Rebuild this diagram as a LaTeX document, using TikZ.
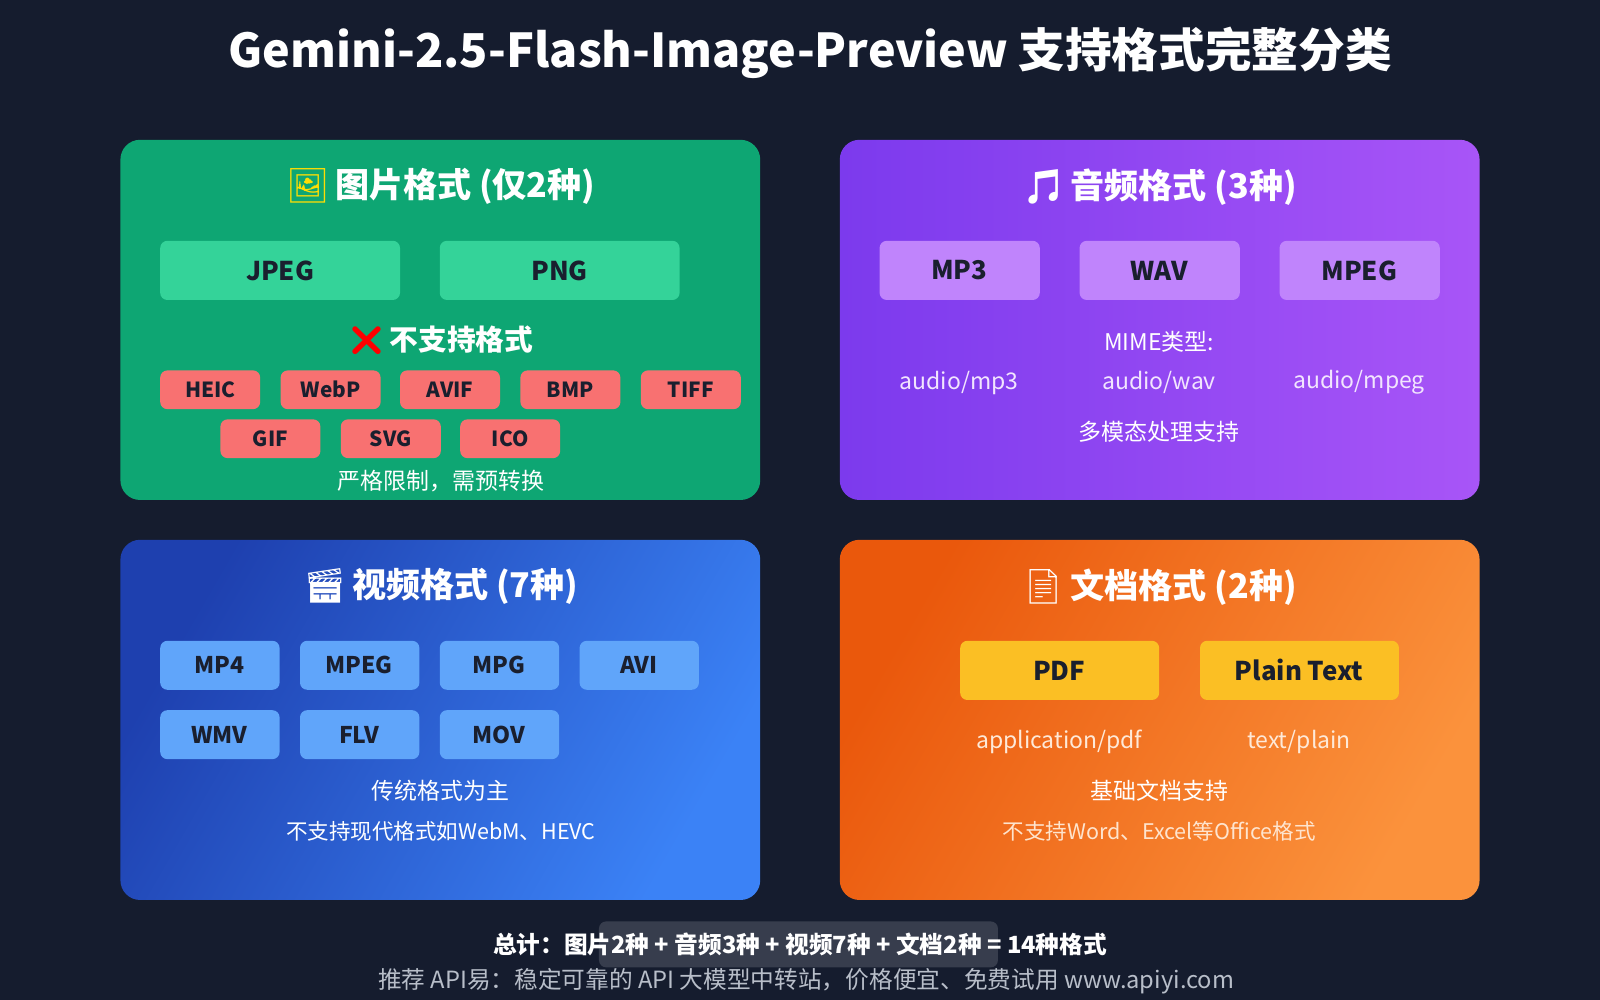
\documentclass[tikz,border=0pt]{standalone}
\usepackage{fontspec}
\setmainfont{Noto Sans CJK SC}
\newfontfamily\emojifont{Noto Emoji}
\definecolor{bgdark}{HTML}{151C2E}
\definecolor{greencard}{HTML}{0EA673}
\definecolor{greenpill}{HTML}{34D399}
\definecolor{redpill}{HTML}{F87171}
\definecolor{purpleA}{HTML}{7C3AED}
\definecolor{purpleB}{HTML}{A855F7}
\definecolor{purplepill}{HTML}{C084FC}
\definecolor{blueA}{HTML}{1E40AF}
\definecolor{blueB}{HTML}{3B82F6}
\definecolor{bluepill}{HTML}{60A5FA}
\definecolor{orangeA}{HTML}{EA580C}
\definecolor{orangeB}{HTML}{FB923C}
\definecolor{orangepill}{HTML}{FBBF24}
\definecolor{pilltext}{HTML}{1A1F2E}
\definecolor{footgrey}{HTML}{B8BEC9}
\tikzset{
  card/.style={rounded corners=5.5pt},
  pillbg/.style={rounded corners=2pt},
  pill/.style={inner sep=0, font=\bfseries\fontsize{7.2}{9}\selectfont, text=pilltext},
  smallpill/.style={inner sep=0, font=\bfseries\fontsize{5.8}{7}\selectfont, text=pilltext},
  cardtitle/.style={text=white, font=\bfseries\fontsize{9.5}{12}\selectfont},
  bodytext/.style={text=white, font=\fontsize{6.4}{8}\selectfont},
}
\begin{document}
\begin{tikzpicture}[x=0.01cm, y=-0.01cm]
  \fill[bgdark] (0,0) rectangle (1568,980);
  \useasboundingbox (0,0) rectangle (1568,980);
  % title
  \node[text=white, font=\bfseries\fontsize{13}{16}\selectfont] (title) at (794,52) {Gemini-2.5-Flash-Image-Preview 支持格式完整分类};
  % cards
  \fill[card, greencard] (118,137) rectangle (745,490);
  \shade[card, left color=purpleA, right color=purpleB] (823,137) rectangle (1450,490);
  \shade[card, left color=blueA, right color=blueB, shading angle=60] (118,529) rectangle (745,882);
  \shade[card, left color=orangeA, right color=orangeB, shading angle=60] (823,529) rectangle (1450,882);
  % image formats
  \node[cardtitle] (imgtitle) at (432,183) {{\emojifont\color{yellow!80!orange}🖼}\,图片格式 (仅2种)};
  \foreach \name/\xa/\xb in {JPEG/157/392, PNG/431/666}{
    \fill[pillbg, greenpill] (\xa,236) rectangle (\xb,294);
    \node[pill] (img-\name) at ({(\xa+\xb)/2},265) {\name};
  }
  \node[cardtitle, font=\bfseries\fontsize{8}{10}\selectfont] (nosupp) at (432,333) {{\emojifont\color{red}❌}\,不支持格式};
  \foreach \name/\xa/\ya in {HEIC/157/363, WebP/275/363, AVIF/392/363, BMP/510/363, TIFF/628/363,
                             GIF/216/411, SVG/334/411, ICO/451/411}{
    \fill[pillbg, redpill] (\xa,\ya) rectangle (\xa+98,\ya+38);
    \node[smallpill] (bad-\name) at (\xa+49,\ya+19) {\name};
  }
  \node[bodytext] (imgnote) at (432,471) {严格限制，需预转换};
  % audio formats
  \node[cardtitle] (audtitle) at (1136,183) {{\emojifont 🎵}\,音频格式 (3种)};
  \foreach \name/\xa/\mime in {MP3/862/audio\slash mp3, WAV/1058/audio\slash wav, MPEG/1254/audio\slash mpeg}{
    \fill[pillbg, purplepill] (\xa,236) rectangle (\xa+157,294);
    \node[pill] (aud-\name) at (\xa+78,265) {\name};
    \node[bodytext, text=white!85!purpleB] (mime-\name) at (\xa+78,375) {\mime};
  }
  \node[bodytext] (mimehead) at (1136,335) {MIME类型:};
  \node[bodytext] (audnote) at (1136,423) {多模态处理支持};
  % video formats
  \node[cardtitle] (vidtitle) at (432,575) {{\emojifont 🎬}\,视频格式 (7种)};
  \foreach \name/\xa/\ya in {MP4/157/628, MPEG/294/628, MPG/431/628, AVI/568/628,
                             WMV/157/696, FLV/294/696, MOV/431/696}{
    \fill[pillbg, bluepill] (\xa,\ya) rectangle (\xa+117,\ya+48);
    \node[pill, font=\bfseries\fontsize{6.4}{8}\selectfont] (vid-\name) at (\xa+58,\ya+24) {\name};
  }
  \node[bodytext] (vidnote) at (432,775) {传统格式为主};
  \node[bodytext, font=\fontsize{6}{7}\selectfont] (vidnote2) at (432,815) {不支持现代格式如WebM、HEVC};
  % document formats
  \node[cardtitle] (doctitle) at (1136,575) {{\emojifont 📄}\,文档格式 (2种)};
  \foreach \name/\xa/\mime in {PDF/941/application\slash pdf, Plain Text/1176/text\slash plain}{
    \fill[pillbg, orangepill] (\xa,628) rectangle (\xa+195,686);
    \node[pill] (doc-\xa) at (\xa+97,657) {\name};
    \node[bodytext, text=white!80!orangeB] (dmime-\xa) at (\xa+97,727) {\mime};
  }
  \node[bodytext] (docnote) at (1136,775) {基础文档支持};
  \node[bodytext, text=white!75!orangeB, font=\fontsize{6}{7}\selectfont] (docnote2) at (1136,815) {不支持Word、Excel等Office格式};
  % footer
  \fill[rounded corners=2pt, white, opacity=0.15] (587,903) rectangle (978,948);
  \node[text=white, font=\bfseries\fontsize{6.6}{8}\selectfont] (total) at (784,926) {总计：图片2种 + 音频3种 + 视频7种 + 文档2种 = 14种格式};
  \node[text=footgrey, font=\fontsize{6.6}{8}\selectfont] (credit) at (790,962) {推荐 API易：稳定可靠的 API 大模型中转站，价格便宜、免费试用 www.apiyi.com};
\end{tikzpicture}
\end{document}
